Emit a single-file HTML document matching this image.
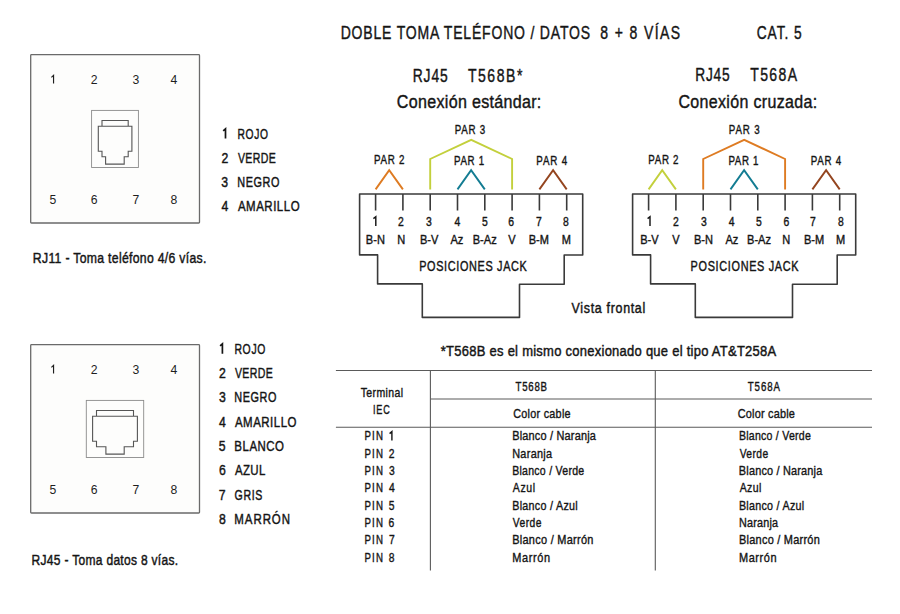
<!DOCTYPE html>
<html><head><meta charset="utf-8"><title>Doble toma teléfono / datos</title>
<style>html,body{margin:0;padding:0;background:#fff;}body{width:900px;height:614px;overflow:hidden;font-family:"Liberation Sans",sans-serif;}svg{display:block;font-family:"Liberation Sans",sans-serif;}</style>
</head><body>
<svg width="900" height="614" viewBox="0 0 900 614">
<rect x="30.7" y="54.7" width="168.8" height="168.3" fill="#fdfdfc" stroke="#6a6a6a" stroke-width="1.3" rx="0.8"/>
<rect x="30.7" y="344.7" width="168.8" height="168.3" fill="#fdfdfc" stroke="#6a6a6a" stroke-width="1.3" rx="0.8"/>
<rect x="91.6" y="110.4" width="46.8" height="57.1" fill="none" stroke="#8a8a8a" stroke-width="0.9"/>
<path d="M102,126.3 V120.5 H128.2 V126.3 M98.3,126.3 H131.9 V151.3 H128.2 V156.8 H124.2 V164.1 H105.6 V156.8 H102 V151.3 H98.3 Z" fill="none" stroke="#555" stroke-width="1.1"/>
<rect x="86.3" y="400.4" width="57.4" height="57.1" fill="none" stroke="#8a8a8a" stroke-width="0.9"/>
<path d="M96.5,416.3 V410.5 H133.5 V416.3 M92.6,416.3 H137.4 V441.3 H133.5 V446.8 H124.2 V454.1 H105.9 V446.8 H96.5 V441.3 H92.6 Z" fill="none" stroke="#555" stroke-width="1.1"/>
<path d="M53.55,83.6 V75.3 L51.4,77.3" fill="none" stroke="#1e1e1e" stroke-width="1.15"/>
<text x="53.0" y="204.0" font-size="12.2" text-anchor="middle" fill="#1e1e1e">5</text>
<text x="94.2" y="83.6" font-size="12.2" text-anchor="middle" fill="#1e1e1e">2</text>
<text x="94.2" y="204.0" font-size="12.2" text-anchor="middle" fill="#1e1e1e">6</text>
<text x="136.0" y="83.6" font-size="12.2" text-anchor="middle" fill="#1e1e1e">3</text>
<text x="136.0" y="204.0" font-size="12.2" text-anchor="middle" fill="#1e1e1e">7</text>
<text x="174.0" y="83.6" font-size="12.2" text-anchor="middle" fill="#1e1e1e">4</text>
<text x="174.0" y="204.0" font-size="12.2" text-anchor="middle" fill="#1e1e1e">8</text>
<path d="M53.55,373.6 V365.3 L51.4,367.3" fill="none" stroke="#1e1e1e" stroke-width="1.15"/>
<text x="53.0" y="494.0" font-size="12.2" text-anchor="middle" fill="#1e1e1e">5</text>
<text x="94.2" y="373.6" font-size="12.2" text-anchor="middle" fill="#1e1e1e">2</text>
<text x="94.2" y="494.0" font-size="12.2" text-anchor="middle" fill="#1e1e1e">6</text>
<text x="136.0" y="373.6" font-size="12.2" text-anchor="middle" fill="#1e1e1e">3</text>
<text x="136.0" y="494.0" font-size="12.2" text-anchor="middle" fill="#1e1e1e">7</text>
<text x="174.0" y="373.6" font-size="12.2" text-anchor="middle" fill="#1e1e1e">4</text>
<text x="174.0" y="494.0" font-size="12.2" text-anchor="middle" fill="#1e1e1e">8</text>
<path d="M359.6,194.0 H582.7 V255 H564.2 V284.2 H519.5 V317.4 H422.3 V283.9 H377.6 V254.9 H359.6 Z" fill="none" stroke="#3a3a3a" stroke-width="1.6" stroke-linejoin="round"/>
<line x1="375.6" y1="194.0" x2="375.6" y2="210.5" stroke="#3a3a3a" stroke-width="1.6"/>
<line x1="402.9" y1="194.0" x2="402.9" y2="210.5" stroke="#3a3a3a" stroke-width="1.6"/>
<line x1="430.2" y1="194.0" x2="430.2" y2="210.5" stroke="#3a3a3a" stroke-width="1.6"/>
<line x1="457.5" y1="194.0" x2="457.5" y2="210.5" stroke="#3a3a3a" stroke-width="1.6"/>
<line x1="484.8" y1="194.0" x2="484.8" y2="210.5" stroke="#3a3a3a" stroke-width="1.6"/>
<line x1="512.1" y1="194.0" x2="512.1" y2="210.5" stroke="#3a3a3a" stroke-width="1.6"/>
<line x1="539.4" y1="194.0" x2="539.4" y2="210.5" stroke="#3a3a3a" stroke-width="1.6"/>
<line x1="566.7" y1="194.0" x2="566.7" y2="210.5" stroke="#3a3a3a" stroke-width="1.6"/>
<polyline points="375.6,189.4 389.2,170.2 402.9,189.4" fill="none" stroke="#de7b22" stroke-width="1.9"/>
<polyline points="457.5,189.4 471.1,170.2 484.8,189.4" fill="none" stroke="#137c92" stroke-width="1.9"/>
<polyline points="539.4,189.4 553.1,170.2 566.7,189.4" fill="none" stroke="#94451f" stroke-width="1.9"/>
<polyline points="430.2,189.4 430.2,159 471.2,139.8 512.1,159 512.1,189.4" fill="none" stroke="#c3d03c" stroke-width="1.9"/>
<path d="M632.6,194.0 H855.7 V255 H837.2 V284.2 H792.5 V317.4 H695.3 V283.9 H650.6 V254.9 H632.6 Z" fill="none" stroke="#3a3a3a" stroke-width="1.6" stroke-linejoin="round"/>
<line x1="648.6" y1="194.0" x2="648.6" y2="210.5" stroke="#3a3a3a" stroke-width="1.6"/>
<line x1="675.9" y1="194.0" x2="675.9" y2="210.5" stroke="#3a3a3a" stroke-width="1.6"/>
<line x1="703.2" y1="194.0" x2="703.2" y2="210.5" stroke="#3a3a3a" stroke-width="1.6"/>
<line x1="730.5" y1="194.0" x2="730.5" y2="210.5" stroke="#3a3a3a" stroke-width="1.6"/>
<line x1="757.8" y1="194.0" x2="757.8" y2="210.5" stroke="#3a3a3a" stroke-width="1.6"/>
<line x1="785.1" y1="194.0" x2="785.1" y2="210.5" stroke="#3a3a3a" stroke-width="1.6"/>
<line x1="812.4" y1="194.0" x2="812.4" y2="210.5" stroke="#3a3a3a" stroke-width="1.6"/>
<line x1="839.7" y1="194.0" x2="839.7" y2="210.5" stroke="#3a3a3a" stroke-width="1.6"/>
<polyline points="648.6,189.4 662.2,170.2 675.9,189.4" fill="none" stroke="#c3d03c" stroke-width="1.9"/>
<polyline points="730.5,189.4 744.1,170.2 757.8,189.4" fill="none" stroke="#137c92" stroke-width="1.9"/>
<polyline points="812.4,189.4 826.1,170.2 839.7,189.4" fill="none" stroke="#94451f" stroke-width="1.9"/>
<polyline points="703.2,189.4 703.2,159 744.2,139.8 785.1,159 785.1,189.4" fill="none" stroke="#de7b22" stroke-width="1.9"/>
<line x1="335.9" y1="370.5" x2="872" y2="370.5" stroke="#5a5a5a" stroke-width="1.1"/>
<line x1="430.4" y1="399" x2="872" y2="399" stroke="#5a5a5a" stroke-width="1.1"/>
<line x1="335.9" y1="427.2" x2="872" y2="427.2" stroke="#5a5a5a" stroke-width="1.1"/>
<line x1="430.4" y1="370.5" x2="430.4" y2="570.5" stroke="#5a5a5a" stroke-width="1.1"/>
<line x1="655.3" y1="370.5" x2="655.3" y2="570.5" stroke="#5a5a5a" stroke-width="1.1"/>
<text transform="translate(340.68,39.0) scale(0.75,1)" font-size="18.7" textLength="332.56" lengthAdjust="spacing" fill="#151515" stroke="#151515" stroke-width="0.421">DOBLE TOMA TELÉFONO / DATOS</text>
<text transform="translate(600.19,39.0) scale(0.75,1)" font-size="18.7" textLength="106.54" lengthAdjust="spacing" fill="#151515" stroke="#151515" stroke-width="0.421">8 + 8 VÍAS</text>
<text transform="translate(756.68,39.0) scale(0.736,1)" font-size="18.7" textLength="61.15" lengthAdjust="spacing" fill="#151515" stroke="#151515" stroke-width="0.421">CAT. 5</text>
<text transform="translate(412.70,82.0) scale(0.741,1)" font-size="18.7" textLength="47.35" lengthAdjust="spacing" fill="#151515" stroke="#151515" stroke-width="0.421">RJ45</text>
<text transform="translate(467.93,82.0) scale(0.75,1)" font-size="18.7" textLength="72.57" lengthAdjust="spacing" fill="#151515" stroke="#151515" stroke-width="0.421">T568B*</text>
<text transform="translate(396.85,108.2) scale(0.86,1)" font-size="18.7" textLength="168.03" lengthAdjust="spacing" fill="#151515" stroke="#151515" stroke-width="0.421">Conexión estándar:</text>
<text transform="translate(695.28,80.9) scale(0.734,1)" font-size="18.7" textLength="46.67" lengthAdjust="spacing" fill="#151515" stroke="#151515" stroke-width="0.421">RJ45</text>
<text transform="translate(750.18,80.9) scale(0.75,1)" font-size="18.7" textLength="62.63" lengthAdjust="spacing" fill="#151515" stroke="#151515" stroke-width="0.421">T568A</text>
<text transform="translate(678.38,108.2) scale(0.856,1)" font-size="18.7" textLength="162.08" lengthAdjust="spacing" fill="#151515" stroke="#151515" stroke-width="0.421">Conexión cruzada:</text>
<text transform="translate(32.87,263.4) scale(0.8,1)" font-size="15.3" textLength="216.91" lengthAdjust="spacing" fill="#151515" stroke="#151515" stroke-width="0.459">RJ11 - Toma teléfono 4/6 vías.</text>
<text transform="translate(31.60,564.8) scale(0.786,1)" font-size="15.3" textLength="186.40" lengthAdjust="spacing" fill="#151515" stroke="#151515" stroke-width="0.459">RJ45 - Toma datos 8 vías.</text>
<text transform="translate(440.79,355.8) scale(0.849,1)" font-size="15.3" textLength="395.09" lengthAdjust="spacing" fill="#151515" stroke="#151515" stroke-width="0.459">*T568B es el mismo conexionado que el tipo AT&amp;T258A</text>
<text transform="translate(237.43,138.5) scale(0.672,1)" font-size="15.3" textLength="45.35" lengthAdjust="spacing" fill="#151515" stroke="#151515" stroke-width="0.459">ROJO</text>
<text transform="translate(221.39,162.7) scale(0.8,1)" font-size="15.3" fill="#151515" stroke="#151515" stroke-width="0.459">2</text>
<text transform="translate(237.92,162.7) scale(0.689,1)" font-size="15.3" textLength="54.96" lengthAdjust="spacing" fill="#151515" stroke="#151515" stroke-width="0.459">VERDE</text>
<text transform="translate(221.26,186.8) scale(0.8,1)" font-size="15.3" fill="#151515" stroke="#151515" stroke-width="0.459">3</text>
<text transform="translate(237.33,186.8) scale(0.711,1)" font-size="15.3" textLength="59.29" lengthAdjust="spacing" fill="#151515" stroke="#151515" stroke-width="0.459">NEGRO</text>
<text transform="translate(221.45,211.0) scale(0.8,1)" font-size="15.3" fill="#151515" stroke="#151515" stroke-width="0.459">4</text>
<text transform="translate(237.94,211.0) scale(0.75,1)" font-size="15.3" textLength="82.16" lengthAdjust="spacing" fill="#151515" stroke="#151515" stroke-width="0.459">AMARILLO</text>
<text transform="translate(234.40,353.8) scale(0.681,1)" font-size="15.3" textLength="45.64" lengthAdjust="spacing" fill="#151515" stroke="#151515" stroke-width="0.459">ROJO</text>
<text transform="translate(218.89,378.1) scale(0.8,1)" font-size="15.3" fill="#151515" stroke="#151515" stroke-width="0.459">2</text>
<text transform="translate(234.92,378.1) scale(0.689,1)" font-size="15.3" textLength="54.96" lengthAdjust="spacing" fill="#151515" stroke="#151515" stroke-width="0.459">VERDE</text>
<text transform="translate(218.88,402.40000000000003) scale(0.8,1)" font-size="15.3" fill="#151515" stroke="#151515" stroke-width="0.459">3</text>
<text transform="translate(234.33,402.40000000000003) scale(0.711,1)" font-size="15.3" textLength="59.29" lengthAdjust="spacing" fill="#151515" stroke="#151515" stroke-width="0.459">NEGRO</text>
<text transform="translate(218.89,426.70000000000005) scale(0.8,1)" font-size="15.3" fill="#151515" stroke="#151515" stroke-width="0.459">4</text>
<text transform="translate(234.94,426.70000000000005) scale(0.75,1)" font-size="15.3" textLength="82.12" lengthAdjust="spacing" fill="#151515" stroke="#151515" stroke-width="0.459">AMARILLO</text>
<text transform="translate(218.86,451.0) scale(0.8,1)" font-size="15.3" fill="#151515" stroke="#151515" stroke-width="0.459">5</text>
<text transform="translate(234.37,451.0) scale(0.749,1)" font-size="15.3" textLength="66.22" lengthAdjust="spacing" fill="#151515" stroke="#151515" stroke-width="0.459">BLANCO</text>
<text transform="translate(219.01,475.3) scale(0.8,1)" font-size="15.3" fill="#151515" stroke="#151515" stroke-width="0.459">6</text>
<text transform="translate(234.94,475.3) scale(0.75,1)" font-size="15.3" textLength="40.68" lengthAdjust="spacing" fill="#151515" stroke="#151515" stroke-width="0.459">AZUL</text>
<text transform="translate(218.86,499.6) scale(0.8,1)" font-size="15.3" fill="#151515" stroke="#151515" stroke-width="0.459">7</text>
<text transform="translate(234.61,499.6) scale(0.691,1)" font-size="15.3" textLength="40.03" lengthAdjust="spacing" fill="#151515" stroke="#151515" stroke-width="0.459">GRIS</text>
<text transform="translate(218.91,523.9) scale(0.8,1)" font-size="15.3" fill="#151515" stroke="#151515" stroke-width="0.459">8</text>
<text transform="translate(234.37,523.9) scale(0.75,1)" font-size="15.3" textLength="74.18" lengthAdjust="spacing" fill="#151515" stroke="#151515" stroke-width="0.459">MARRÓN</text>
<text transform="translate(365.85,244.0) scale(0.85,1)" font-size="13.0" fill="#151515" stroke="#151515" stroke-width="0.39">B-N</text>
<text transform="translate(397.88,225.8) scale(0.8,1)" font-size="13.0" fill="#151515" stroke="#151515" stroke-width="0.39">2</text>
<text transform="translate(397.37,244.0) scale(0.85,1)" font-size="13.0" fill="#151515" stroke="#151515" stroke-width="0.39">N</text>
<text transform="translate(425.91,225.8) scale(0.8,1)" font-size="13.0" fill="#151515" stroke="#151515" stroke-width="0.39">3</text>
<text transform="translate(419.90,244.0) scale(0.85,1)" font-size="13.0" fill="#151515" stroke="#151515" stroke-width="0.39">B-V</text>
<text transform="translate(454.48,225.8) scale(0.8,1)" font-size="13.0" fill="#151515" stroke="#151515" stroke-width="0.39">4</text>
<text transform="translate(450.43,244.0) scale(0.85,1)" font-size="13.0" fill="#151515" stroke="#151515" stroke-width="0.39">Az</text>
<text transform="translate(481.93,225.8) scale(0.8,1)" font-size="13.0" fill="#151515" stroke="#151515" stroke-width="0.39">5</text>
<text transform="translate(472.75,244.0) scale(0.85,1)" font-size="13.0" fill="#151515" stroke="#151515" stroke-width="0.39">B-Az</text>
<text transform="translate(508.36,225.8) scale(0.8,1)" font-size="13.0" fill="#151515" stroke="#151515" stroke-width="0.39">6</text>
<text transform="translate(508.31,244.0) scale(0.85,1)" font-size="13.0" fill="#151515" stroke="#151515" stroke-width="0.39">V</text>
<text transform="translate(536.06,225.8) scale(0.8,1)" font-size="13.0" fill="#151515" stroke="#151515" stroke-width="0.39">7</text>
<text transform="translate(528.68,244.0) scale(0.85,1)" font-size="13.0" fill="#151515" stroke="#151515" stroke-width="0.39">B-M</text>
<text transform="translate(563.07,225.8) scale(0.8,1)" font-size="13.0" fill="#151515" stroke="#151515" stroke-width="0.39">8</text>
<text transform="translate(561.70,244.0) scale(0.85,1)" font-size="13.0" fill="#151515" stroke="#151515" stroke-width="0.39">M</text>
<text transform="translate(374.09,164.3) scale(0.75,1)" font-size="13.0" textLength="40.60" lengthAdjust="spacing" fill="#151515" stroke="#151515" stroke-width="0.39">PAR 2</text>
<text transform="translate(453.97,165.0) scale(0.749,1)" font-size="13.0" textLength="40.21" lengthAdjust="spacing" fill="#151515" stroke="#151515" stroke-width="0.39">PAR 1</text>
<text transform="translate(454.68,134.3) scale(0.75,1)" font-size="13.0" textLength="40.81" lengthAdjust="spacing" fill="#151515" stroke="#151515" stroke-width="0.39">PAR 3</text>
<text transform="translate(536.36,165.0) scale(0.75,1)" font-size="13.0" textLength="41.09" lengthAdjust="spacing" fill="#151515" stroke="#151515" stroke-width="0.39">PAR 4</text>
<text transform="translate(419.16,271.0) scale(0.75,1)" font-size="14.5" textLength="143.54" lengthAdjust="spacing" fill="#151515" stroke="#151515" stroke-width="0.435">POSICIONES JACK</text>
<text transform="translate(640.26,244.0) scale(0.85,1)" font-size="13.0" fill="#151515" stroke="#151515" stroke-width="0.39">B-V</text>
<text transform="translate(672.88,225.8) scale(0.8,1)" font-size="13.0" fill="#151515" stroke="#151515" stroke-width="0.39">2</text>
<text transform="translate(672.31,244.0) scale(0.85,1)" font-size="13.0" fill="#151515" stroke="#151515" stroke-width="0.39">V</text>
<text transform="translate(701.05,225.8) scale(0.8,1)" font-size="13.0" fill="#151515" stroke="#151515" stroke-width="0.39">3</text>
<text transform="translate(693.90,244.0) scale(0.85,1)" font-size="13.0" fill="#151515" stroke="#151515" stroke-width="0.39">B-N</text>
<text transform="translate(728.74,225.8) scale(0.8,1)" font-size="13.0" fill="#151515" stroke="#151515" stroke-width="0.39">4</text>
<text transform="translate(725.43,244.0) scale(0.85,1)" font-size="13.0" fill="#151515" stroke="#151515" stroke-width="0.39">Az</text>
<text transform="translate(755.93,225.8) scale(0.8,1)" font-size="13.0" fill="#151515" stroke="#151515" stroke-width="0.39">5</text>
<text transform="translate(747.08,244.0) scale(0.85,1)" font-size="13.0" fill="#151515" stroke="#151515" stroke-width="0.39">B-Az</text>
<text transform="translate(783.56,225.8) scale(0.8,1)" font-size="13.0" fill="#151515" stroke="#151515" stroke-width="0.39">6</text>
<text transform="translate(782.37,244.0) scale(0.85,1)" font-size="13.0" fill="#151515" stroke="#151515" stroke-width="0.39">N</text>
<text transform="translate(809.95,225.8) scale(0.8,1)" font-size="13.0" fill="#151515" stroke="#151515" stroke-width="0.39">7</text>
<text transform="translate(803.90,244.0) scale(0.85,1)" font-size="13.0" fill="#151515" stroke="#151515" stroke-width="0.39">B-M</text>
<text transform="translate(838.07,225.8) scale(0.8,1)" font-size="13.0" fill="#151515" stroke="#151515" stroke-width="0.39">8</text>
<text transform="translate(835.88,244.0) scale(0.85,1)" font-size="13.0" fill="#151515" stroke="#151515" stroke-width="0.39">M</text>
<text transform="translate(648.36,164.3) scale(0.75,1)" font-size="13.0" textLength="40.12" lengthAdjust="spacing" fill="#151515" stroke="#151515" stroke-width="0.39">PAR 2</text>
<text transform="translate(728.41,165.0) scale(0.749,1)" font-size="13.0" textLength="40.11" lengthAdjust="spacing" fill="#151515" stroke="#151515" stroke-width="0.39">PAR 1</text>
<text transform="translate(728.80,134.3) scale(0.75,1)" font-size="13.0" textLength="41.32" lengthAdjust="spacing" fill="#151515" stroke="#151515" stroke-width="0.39">PAR 3</text>
<text transform="translate(810.68,165.0) scale(0.75,1)" font-size="13.0" textLength="40.75" lengthAdjust="spacing" fill="#151515" stroke="#151515" stroke-width="0.39">PAR 4</text>
<text transform="translate(690.57,271.0) scale(0.75,1)" font-size="14.5" textLength="144.02" lengthAdjust="spacing" fill="#151515" stroke="#151515" stroke-width="0.435">POSICIONES JACK</text>
<text transform="translate(571.61,313.0) scale(0.86,1)" font-size="14.5" textLength="85.64" lengthAdjust="spacing" fill="#151515" stroke="#151515" stroke-width="0.435">Vista frontal</text>
<text transform="translate(360.71,397.0) scale(0.813,1)" font-size="12.9" textLength="52.22" lengthAdjust="spacing" fill="#151515" stroke="#151515" stroke-width="0.387">Terminal</text>
<text transform="translate(373.02,414.0) scale(0.705,1)" font-size="12.9" textLength="23.81" lengthAdjust="spacing" fill="#151515" stroke="#151515" stroke-width="0.387">IEC</text>
<text transform="translate(515.61,390.6) scale(0.75,1)" font-size="12.9" textLength="41.92" lengthAdjust="spacing" fill="#151515" stroke="#151515" stroke-width="0.387">T568B</text>
<text transform="translate(513.20,418.4) scale(0.838,1)" font-size="12.9" textLength="68.47" lengthAdjust="spacing" fill="#151515" stroke="#151515" stroke-width="0.387">Color cable</text>
<text transform="translate(747.73,390.6) scale(0.75,1)" font-size="12.9" textLength="43.08" lengthAdjust="spacing" fill="#151515" stroke="#151515" stroke-width="0.387">T568A</text>
<text transform="translate(737.80,418.4) scale(0.847,1)" font-size="12.9" textLength="67.47" lengthAdjust="spacing" fill="#151515" stroke="#151515" stroke-width="0.387">Color cable</text>
<text transform="translate(364.56,440.4) scale(0.75,1)" font-size="12.9" textLength="24.46" lengthAdjust="spacing" fill="#151515" stroke="#151515" stroke-width="0.387">PIN</text>
<text transform="translate(512.16,440.4) scale(0.848,1)" font-size="12.9" textLength="98.72" lengthAdjust="spacing" fill="#151515" stroke="#151515" stroke-width="0.387">Blanco / Naranja</text>
<text transform="translate(738.92,440.4) scale(0.818,1)" font-size="12.9" textLength="87.84" lengthAdjust="spacing" fill="#151515" stroke="#151515" stroke-width="0.387">Blanco / Verde</text>
<text transform="translate(364.56,457.72999999999996) scale(0.75,1)" font-size="12.9" textLength="24.46" lengthAdjust="spacing" fill="#151515" stroke="#151515" stroke-width="0.387">PIN</text>
<text transform="translate(388.80,457.72999999999996) scale(0.8,1)" font-size="12.9" fill="#151515" stroke="#151515" stroke-width="0.387">2</text>
<text transform="translate(512.14,457.72999999999996) scale(0.843,1)" font-size="12.9" textLength="47.47" lengthAdjust="spacing" fill="#151515" stroke="#151515" stroke-width="0.387">Naranja</text>
<text transform="translate(739.68,457.72999999999996) scale(0.796,1)" font-size="12.9" textLength="35.81" lengthAdjust="spacing" fill="#151515" stroke="#151515" stroke-width="0.387">Verde</text>
<text transform="translate(364.56,475.05999999999995) scale(0.75,1)" font-size="12.9" textLength="24.46" lengthAdjust="spacing" fill="#151515" stroke="#151515" stroke-width="0.387">PIN</text>
<text transform="translate(388.89,475.05999999999995) scale(0.8,1)" font-size="12.9" fill="#151515" stroke="#151515" stroke-width="0.387">3</text>
<text transform="translate(512.22,475.05999999999995) scale(0.818,1)" font-size="12.9" textLength="87.91" lengthAdjust="spacing" fill="#151515" stroke="#151515" stroke-width="0.387">Blanco / Verde</text>
<text transform="translate(738.85,475.05999999999995) scale(0.847,1)" font-size="12.9" textLength="98.44" lengthAdjust="spacing" fill="#151515" stroke="#151515" stroke-width="0.387">Blanco / Naranja</text>
<text transform="translate(364.56,492.39) scale(0.75,1)" font-size="12.9" textLength="24.46" lengthAdjust="spacing" fill="#151515" stroke="#151515" stroke-width="0.387">PIN</text>
<text transform="translate(388.88,492.39) scale(0.8,1)" font-size="12.9" fill="#151515" stroke="#151515" stroke-width="0.387">4</text>
<text transform="translate(512.81,492.39) scale(0.817,1)" font-size="12.9" textLength="27.14" lengthAdjust="spacing" fill="#151515" stroke="#151515" stroke-width="0.387">Azul</text>
<text transform="translate(739.69,492.39) scale(0.817,1)" font-size="12.9" textLength="26.44" lengthAdjust="spacing" fill="#151515" stroke="#151515" stroke-width="0.387">Azul</text>
<text transform="translate(364.56,509.71999999999997) scale(0.75,1)" font-size="12.9" textLength="24.46" lengthAdjust="spacing" fill="#151515" stroke="#151515" stroke-width="0.387">PIN</text>
<text transform="translate(388.84,509.71999999999997) scale(0.8,1)" font-size="12.9" fill="#151515" stroke="#151515" stroke-width="0.387">5</text>
<text transform="translate(512.22,509.71999999999997) scale(0.831,1)" font-size="12.9" textLength="78.79" lengthAdjust="spacing" fill="#151515" stroke="#151515" stroke-width="0.387">Blanco / Azul</text>
<text transform="translate(738.88,509.71999999999997) scale(0.83,1)" font-size="12.9" textLength="78.67" lengthAdjust="spacing" fill="#151515" stroke="#151515" stroke-width="0.387">Blanco / Azul</text>
<text transform="translate(364.56,527.05) scale(0.75,1)" font-size="12.9" textLength="24.46" lengthAdjust="spacing" fill="#151515" stroke="#151515" stroke-width="0.387">PIN</text>
<text transform="translate(388.57,527.05) scale(0.8,1)" font-size="12.9" fill="#151515" stroke="#151515" stroke-width="0.387">6</text>
<text transform="translate(512.80,527.05) scale(0.796,1)" font-size="12.9" textLength="35.87" lengthAdjust="spacing" fill="#151515" stroke="#151515" stroke-width="0.387">Verde</text>
<text transform="translate(739.04,527.05) scale(0.837,1)" font-size="12.9" textLength="46.66" lengthAdjust="spacing" fill="#151515" stroke="#151515" stroke-width="0.387">Naranja</text>
<text transform="translate(364.56,544.38) scale(0.75,1)" font-size="12.9" textLength="24.46" lengthAdjust="spacing" fill="#151515" stroke="#151515" stroke-width="0.387">PIN</text>
<text transform="translate(388.89,544.38) scale(0.8,1)" font-size="12.9" fill="#151515" stroke="#151515" stroke-width="0.387">7</text>
<text transform="translate(512.15,544.38) scale(0.85,1)" font-size="12.9" textLength="95.60" lengthAdjust="spacing" fill="#151515" stroke="#151515" stroke-width="0.387">Blanco / Marrón</text>
<text transform="translate(739.04,544.38) scale(0.85,1)" font-size="12.9" textLength="95.02" lengthAdjust="spacing" fill="#151515" stroke="#151515" stroke-width="0.387">Blanco / Marrón</text>
<text transform="translate(364.56,561.7099999999999) scale(0.75,1)" font-size="12.9" textLength="24.46" lengthAdjust="spacing" fill="#151515" stroke="#151515" stroke-width="0.387">PIN</text>
<text transform="translate(388.64,561.7099999999999) scale(0.8,1)" font-size="12.9" fill="#151515" stroke="#151515" stroke-width="0.387">8</text>
<text transform="translate(512.15,561.7099999999999) scale(0.85,1)" font-size="12.9" textLength="44.58" lengthAdjust="spacing" fill="#151515" stroke="#151515" stroke-width="0.387">Marrón</text>
<text transform="translate(739.03,561.7099999999999) scale(0.85,1)" font-size="12.9" textLength="44.14" lengthAdjust="spacing" fill="#151515" stroke="#151515" stroke-width="0.387">Marrón</text>
<path d="M375.8,226.0 V216.7 L373.40,218.60" fill="none" stroke="#151515" stroke-width="1.45" stroke-linejoin="miter"/>
<path d="M650.0,226.0 V216.7 L647.60,218.60" fill="none" stroke="#151515" stroke-width="1.45" stroke-linejoin="miter"/>
<path d="M225.5,138.6 V128.8 L223.20,130.80" fill="none" stroke="#151515" stroke-width="1.7" stroke-linejoin="miter"/>
<path d="M222.4,353.8 V343.8 L220.10,345.80" fill="none" stroke="#151515" stroke-width="1.7" stroke-linejoin="miter"/>
<path d="M391.9,440.6 V431.6 L389.60,433.60" fill="none" stroke="#151515" stroke-width="1.4" stroke-linejoin="miter"/>
</svg>
</body></html>
